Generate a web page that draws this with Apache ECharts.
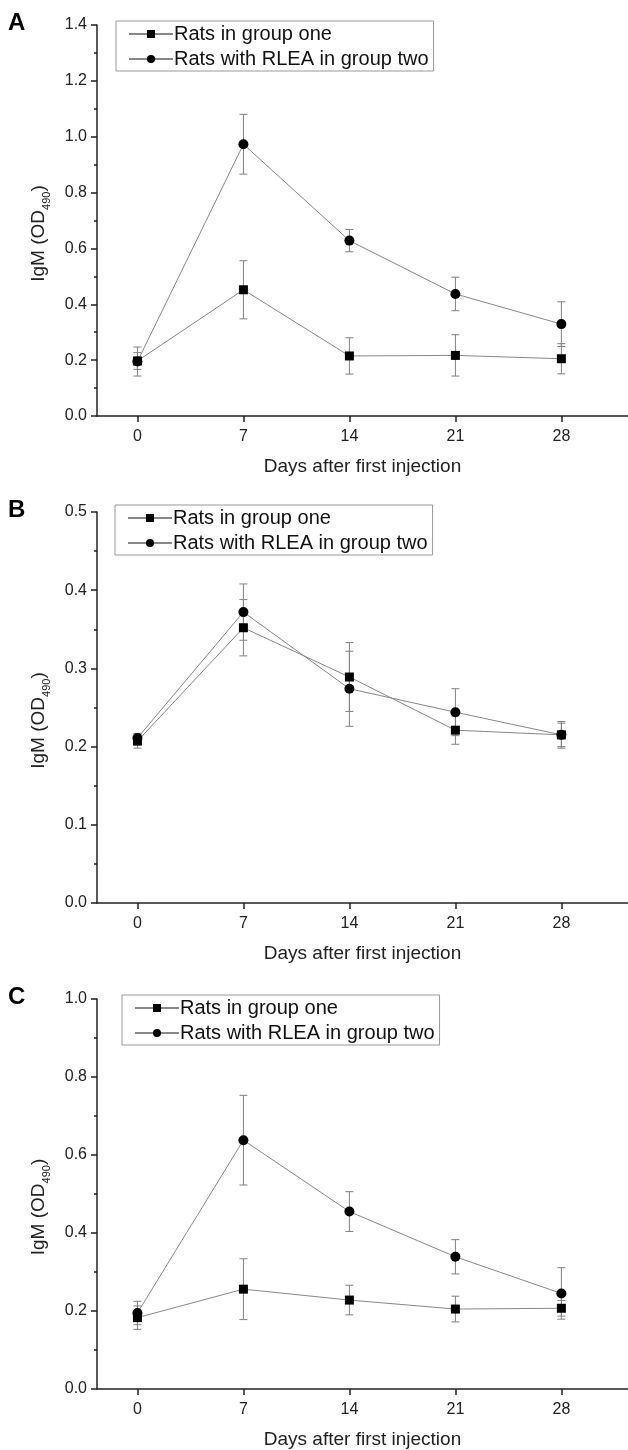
<!DOCTYPE html>
<html>
<head>
<meta charset="utf-8">
<script src="https://cdn.jsdelivr.net/npm/echarts@6/dist/echarts.min.js"></script>
<style>
  html, body { margin: 0; padding: 0; background: #fff; }
  #main { width: 628px; height: 1450px; }
</style>
</head>
<body>
<div id="main"></div>
<script>
var days = [0, 7, 14, 21, 28];
var seriesNames = ['Rats in group one', 'Rats with RLEA in group two'];
var panelLetters = ['A', 'B', 'C'];

// panel A
var aGroupOne = [0.197, 0.452, 0.215, 0.217, 0.205];
var aGroupOneErr = [0.03, 0.104, 0.065, 0.074, 0.054];
var aGroupTwo = [0.195, 0.973, 0.628, 0.437, 0.329];
var aGroupTwoErr = [0.052, 0.107, 0.04, 0.06, 0.08];

// panel B
var bGroupOne = [0.207, 0.352, 0.289, 0.221, 0.215];
var bGroupOneErr = [0.009, 0.036, 0.044, 0.018, 0.015];
var bGroupTwo = [0.211, 0.372, 0.274, 0.244, 0.215];
var bGroupTwoErr = [0.006, 0.036, 0.048, 0.03, 0.017];

// panel C
var cGroupOne = [0.183, 0.256, 0.228, 0.205, 0.207];
var cGroupOneErr = [0.03, 0.078, 0.038, 0.033, 0.02];
var cGroupTwo = [0.195, 0.638, 0.455, 0.339, 0.245];
var cGroupTwoErr = [0.03, 0.115, 0.051, 0.044, 0.066];

var yMax = [1.4, 0.5, 1.0];
var yStep = [0.2, 0.1, 0.2];

var panels = [
    [aGroupOne, aGroupOneErr, aGroupTwo, aGroupTwoErr],
    [bGroupOne, bGroupOneErr, bGroupTwo, bGroupTwoErr],
    [cGroupOne, cGroupOneErr, cGroupTwo, cGroupTwoErr]
];

var chartDom = document.getElementById('main');
var myChart = echarts.init(chartDom);
var option;

var font = 'Liberation Sans, Arial, sans-serif';
var gridTops = [25, 512, 999];
var legendPos = [[116, 21], [115, 505], [122, 995]];

var grids = [], xAxes = [], yAxes = [], legends = [], series = [], graphics = [];

function errorBars(i, values, errs) {
    var data = days.map(function (d, k) {
        return [d, values[k] - errs[k], values[k] + errs[k]];
    });
    return {
        type: 'custom',
        xAxisIndex: i,
        yAxisIndex: i,
        silent: true,
        z: 3,
        data: data,
        renderItem: function (params, api) {
            var lo = api.coord([api.value(0), api.value(1)]);
            var hi = api.coord([api.value(0), api.value(2)]);
            var w = 4;
            var st = { stroke: '#808080', lineWidth: 1 };
            return {
                type: 'group',
                children: [
                    { type: 'line', shape: { x1: hi[0], y1: hi[1], x2: lo[0], y2: lo[1] }, style: st },
                    { type: 'line', shape: { x1: hi[0] - w, y1: hi[1], x2: hi[0] + w, y2: hi[1] }, style: st },
                    { type: 'line', shape: { x1: lo[0] - w, y1: lo[1], x2: lo[0] + w, y2: lo[1] }, style: st }
                ]
            };
        }
    };
}

panels.forEach(function (p, i) {
    grids.push({ left: 97, right: 0, top: gridTops[i], height: 391 });
    xAxes.push({
        type: 'value',
        gridIndex: i,
        min: -2.67,
        max: 32.4,
        name: 'Days after first injection',
        nameLocation: 'middle',
        nameGap: 41,
        nameTextStyle: { fontFamily: font, fontSize: 19, color: '#222' },
        axisLine: { onZero: false, lineStyle: { color: '#222', width: 1.5 } },
        axisTick: { customValues: days, length: 6, lineStyle: { color: '#222', width: 1.5 } },
        axisLabel: { customValues: days, margin: 13, fontFamily: font, fontSize: 16, color: '#222' },
        splitLine: { show: false }
    });
    yAxes.push({
        type: 'value',
        gridIndex: i,
        min: 0,
        max: yMax[i],
        interval: yStep[i],
        name: '{m|IgM (OD}{s|490}{m|)}',
        nameLocation: 'middle',
        nameGap: 49,
        nameTextStyle: {
            fontFamily: font,
            color: '#222',
            padding: [0, 0, 0, -26],
            rich: {
                m: { fontFamily: font, fontSize: 19, color: '#222', lineHeight: 22, verticalAlign: 'bottom' },
                s: { fontFamily: font, fontSize: 11, color: '#222', lineHeight: 22, verticalAlign: 'bottom', padding: [0, 0, -4, 0] }
            }
        },
        axisLine: { show: true, onZero: false, lineStyle: { color: '#222', width: 1.5 } },
        axisTick: { show: true, length: 6, lineStyle: { color: '#222', width: 1.5 } },
        minorTick: { show: true, splitNumber: 2, length: 3, lineStyle: { color: '#222', width: 1.5 } },
        axisLabel: {
            margin: 10,
            fontFamily: font,
            fontSize: 16,
            color: '#222',
            formatter: function (v) { return v.toFixed(1); }
        },
        splitLine: { show: false }
    });
    legends.push({
        left: legendPos[i][0],
        top: legendPos[i][1],
        orient: 'vertical',
        data: seriesNames,
        selectedMode: false,
        borderColor: '#999',
        borderWidth: 1,
        padding: [2, 5, 1, 12],
        itemGap: 3,
        itemWidth: 44,
        itemHeight: 10,
        textStyle: { fontFamily: font, fontSize: 20, color: '#111', lineHeight: 22, padding: [0, 0, 0, -4] }
    });
    series.push(errorBars(i, p[0], p[1]));
    series.push(errorBars(i, p[2], p[3]));
    series.push({
        name: seriesNames[0],
        type: 'line',
        xAxisIndex: i,
        yAxisIndex: i,
        data: days.map(function (d, k) { return [d, p[0][k]]; }),
        symbol: 'rect',
        symbolSize: 9,
        itemStyle: { color: '#000' },
        lineStyle: { color: '#888', width: 1 },
        z: 4
    });
    series.push({
        name: seriesNames[1],
        type: 'line',
        xAxisIndex: i,
        yAxisIndex: i,
        data: days.map(function (d, k) { return [d, p[2][k]]; }),
        symbol: 'circle',
        symbolSize: 10,
        itemStyle: { color: '#000' },
        lineStyle: { color: '#888', width: 1 },
        z: 4
    });
    graphics.push({
        type: 'text',
        left: 8,
        top: gridTops[i] - 14,
        style: { text: panelLetters[i], fontFamily: font, fontSize: 24, fontWeight: 'bold', fill: '#000' }
    });
});

option = {
    backgroundColor: '#fff',
    animation: false,
    grid: grids,
    xAxis: xAxes,
    yAxis: yAxes,
    legend: legends,
    series: series,
    graphic: graphics
};

option && myChart.setOption(option);
</script>
</body>
</html>
